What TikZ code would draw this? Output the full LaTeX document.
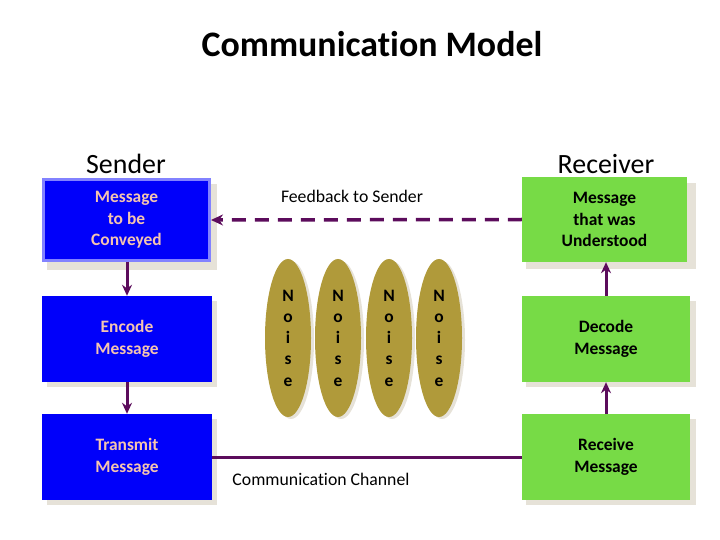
\documentclass[tikz,border=0pt]{standalone}
\usepackage{fontspec}
\setmainfont{Carlito}[Ligatures=NoCommon]
\usetikzlibrary{shapes.geometric,arrows.meta}
\definecolor{boxblue}{RGB}{0,0,250}
\definecolor{boxgreen}{RGB}{119,219,70}
\definecolor{bluetext}{RGB}{244,196,176}
\definecolor{arrowpurple}{RGB}{92,12,92}
\definecolor{noisecol}{RGB}{176,154,58}
\definecolor{shadowcol}{RGB}{230,226,216}
\definecolor{lavender}{RGB}{130,130,255}
\tikzset{
  boxbase/.style={minimum width=170bp, minimum height=86bp, inner sep=0pt, align=center,
    font=\fontsize{17.5}{21.5}\selectfont\bfseries},
  sendbox/.style={boxbase, fill=boxblue, text=bluetext},
  recvbox/.style={boxbase, fill=boxgreen, text=black},
  noisebox/.style={ellipse, fill=noisecol, minimum width=46bp, minimum height=158bp, inner sep=0pt,
    align=center, font=\fontsize{17.5}{21.3}\selectfont\bfseries},
  flow/.style={draw=arrowpurple, line width=3bp, -{Stealth[length=11bp,width=10bp]}},
  plainlabel/.style={font=\fontsize{17.8}{20}\selectfont},
  headlabel/.style={font=\fontsize{28}{32}\selectfont},
}
\begin{document}
\begin{tikzpicture}[x=1bp,y=-1bp]
\useasboundingbox (0,0) rectangle (720,540);
% shadows
\foreach \x/\y in {127/222, 127/339, 127/457, 606/221, 606/339, 606/457}
  \fill[shadowcol] (\x-85+5,\y-43+5) rectangle (\x+85+5,\y+43+5);
\foreach \x in {288,338,389,439}
  \fill[shadowcol] (\x+3,340) ellipse [x radius=23, y radius=79];
% title and headings
\node[font=\fontsize{36}{40}\selectfont\bfseries] (title) at (372,44) {Communication Model};
\node[headlabel] (sender) at (126,164) {Sender};
\node[headlabel] (receiver) at (606,164) {Receiver};
% sender boxes
\node[sendbox, minimum width=166bp, minimum height=80bp, draw=lavender, line width=3bp] (b1) at (126.5,220) {Message\\to be\\Conveyed};
\node[sendbox] (b2) at (127,339) {Encode\\Message};
\node[sendbox] (b3) at (127,457) {Transmit\\Message};
% receiver boxes
\node[recvbox, minimum width=165bp, minimum height=85bp] (b4) at (604.5,219.5) {Message\\that was\\Understood};
\node[recvbox, minimum width=168bp] (b5) at (606,339) {Decode\\Message};
\node[recvbox, minimum width=168bp] (b6) at (606,457) {Receive\\Message};
% noise
\node[noisebox] (n1) at (288,338) {N\\o\\i\\s\\e};
\node[noisebox] (n2) at (338,338) {N\\o\\i\\s\\e};
\node[noisebox] (n3) at (389,338) {N\\o\\i\\s\\e};
\node[noisebox] (n4) at (439,338) {N\\o\\i\\s\\e};
% connectors
\draw[flow] (b2.north |- b1.south) -- (b2.north);
\draw[flow] (b2.south) -- (b3.north);
\draw[flow] (b6.north) -- (b5.south);
\draw[flow] (b5.north) -- (b5.north |- b4.south);
\draw[draw=arrowpurple, line width=3.5bp, dash pattern=on 14bp off 9bp, -{Stealth[length=12bp,width=11bp]}] (b4.west) -- (b1.east);
\draw[draw=arrowpurple, line width=3bp] (b3.east) -- (b6.west);
% labels
\node[plainlabel] (fb) at (352,196) {Feedback to Sender};
\node[plainlabel] (cc) at (321,479) {Communication Channel};
\end{tikzpicture}
\end{document}
